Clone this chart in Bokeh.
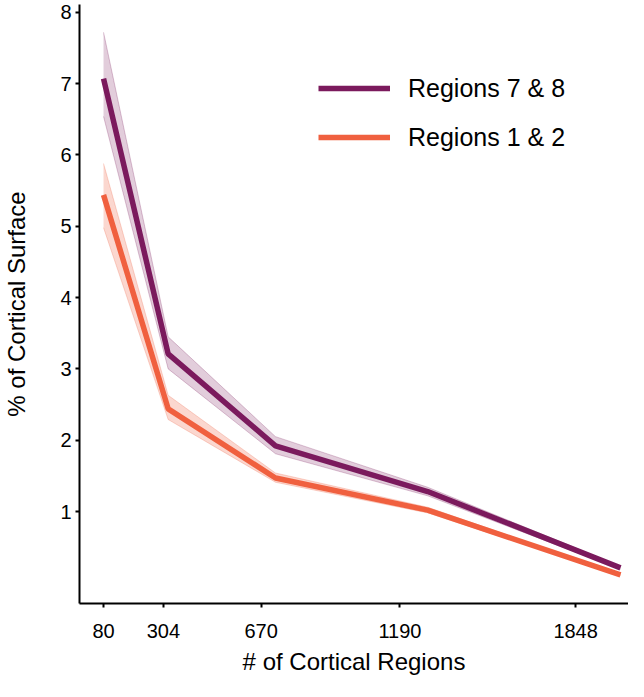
from bokeh.plotting import figure
from bokeh.models import Range1d, FixedTicker, Legend, LegendItem, ColumnDataSource
from bokeh.embed import file_html
from bokeh.resources import INLINE

# --- data ---
n_regions = [80, 322, 724, 1294, 2016]
tick_values = [80, 304, 670, 1190, 1848]
tick_labels = ["80", "304", "670", "1190", "1848"]

r78_mean = [7.07, 3.21, 1.92, 1.28, 0.21]
r78_lo = [6.54, 3.00, 1.81, 1.22, 0.19]
r78_hi = [7.72, 3.45, 2.05, 1.34, 0.23]

r12_mean = [5.44, 2.44, 1.47, 1.02, 0.11]
r12_lo = [4.98, 2.29, 1.41, 0.98, 0.10]
r12_hi = [5.88, 2.63, 1.54, 1.06, 0.12]

y_ticks = [1, 2, 3, 4, 5, 6, 7, 8]

PURPLE = "#7b1a5d"
ORANGE = "#f0603f"
FONT = "Liberation Sans"

p = figure(width=628, height=681, output_backend="svg", toolbar_location=None,
           x_range=Range1d(-10, 2046), y_range=Range1d(-0.29, 8.11),
           min_border_left=79, min_border_right=0, min_border_top=4, min_border_bottom=78)
p.outline_line_color = None
p.xgrid.visible = False
p.ygrid.visible = False
p.background_fill_color = "white"
p.border_fill_color = "white"

src78 = ColumnDataSource(dict(x=n_regions, y=r78_mean, lo=r78_lo, hi=r78_hi))
src12 = ColumnDataSource(dict(x=n_regions, y=r12_mean, lo=r12_lo, hi=r12_hi))

p.varea(x="x", y1="lo", y2="hi", source=src78, fill_color=PURPLE, fill_alpha=0.22)
p.line(x="x", y="lo", source=src78, line_color=PURPLE, line_alpha=0.25, line_width=1)
p.line(x="x", y="hi", source=src78, line_color=PURPLE, line_alpha=0.25, line_width=1)
p.varea(x="x", y1="lo", y2="hi", source=src12, fill_color=ORANGE, fill_alpha=0.25)
p.line(x="x", y="lo", source=src12, line_color=ORANGE, line_alpha=0.25, line_width=1)
p.line(x="x", y="hi", source=src12, line_color=ORANGE, line_alpha=0.25, line_width=1)

l12 = p.line(x="x", y="y", source=src12, line_color=ORANGE, line_width=5.5)
l78 = p.line(x="x", y="y", source=src78, line_color=PURPLE, line_width=5.5)

legend = Legend(items=[LegendItem(label="Regions 7 & 8", renderers=[l78]),
                       LegendItem(label="Regions 1 & 2", renderers=[l12])],
                location=(239, 451), glyph_width=72, glyph_height=30, label_height=30,
                label_standoff=18, spacing=19, padding=10,
                label_text_font=FONT, label_text_font_size="25px", label_text_color="black",
                border_line_color=None, background_fill_alpha=0)
p.add_layout(legend)

for ax in (p.xaxis[0], p.yaxis[0]):
    ax.axis_line_width = 2
    ax.axis_line_color = "black"
    ax.major_tick_line_width = 2
    ax.major_tick_line_color = "black"
    ax.major_tick_out = 4
    ax.major_tick_in = 0
    ax.minor_tick_line_color = None
    ax.major_label_text_font = FONT
    ax.major_label_text_font_size = "20px"
    ax.major_label_text_color = "black"
    ax.axis_label_text_font = FONT
    ax.axis_label_text_font_size = "24px"
    ax.axis_label_text_font_style = "normal"
    ax.axis_label_text_color = "black"

p.xaxis.ticker = FixedTicker(ticks=tick_values)
p.xaxis.major_label_overrides = {v: s for v, s in zip(tick_values, tick_labels)}
p.xaxis.axis_label = "# of Cortical Regions"
p.xaxis.major_label_standoff = 16
p.xaxis.axis_label_standoff = 7

p.yaxis.ticker = FixedTicker(ticks=y_ticks)
p.yaxis.axis_label = "% of Cortical Surface"
p.yaxis.major_label_standoff = 4
p.yaxis.axis_label_standoff = 27

open("out.html", "w").write(file_html(p, INLINE))
